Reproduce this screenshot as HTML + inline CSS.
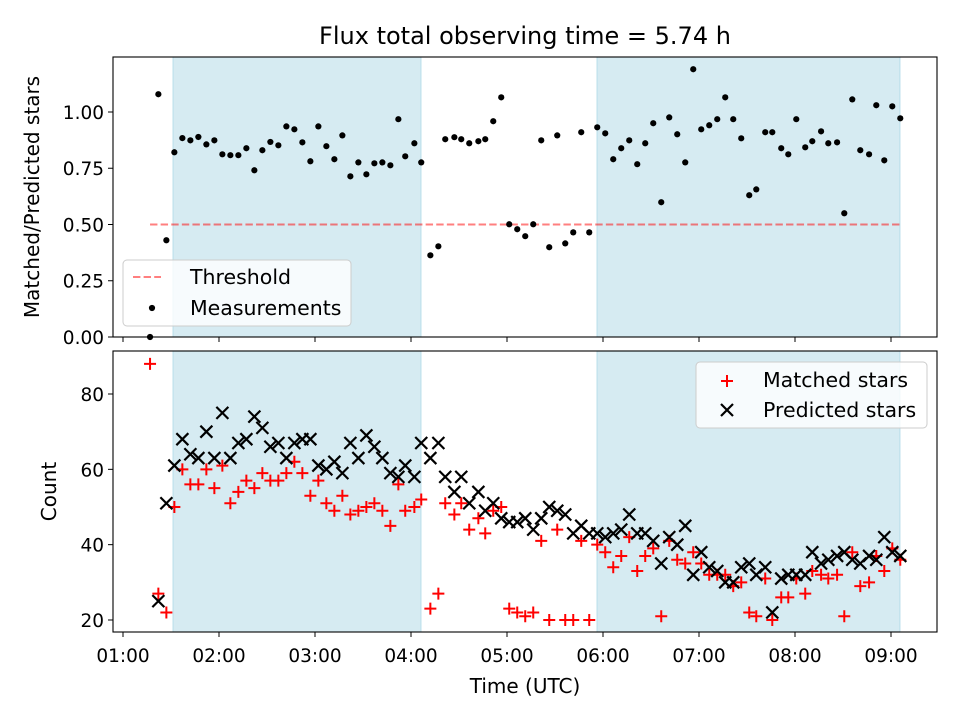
<!DOCTYPE html>
<html><head><meta charset="utf-8">
<style>
body{margin:0;background:#fff;}
svg text{font-family:"DejaVu Sans","Liberation Sans",sans-serif;fill:#000;}
</style></head>
<body>
<svg id="chart" width="960" height="720" viewBox="0 0 960 720" xmlns="http://www.w3.org/2000/svg">
<rect width="960" height="720" fill="#fff"/>
<text x="525" y="44" font-size="24" text-anchor="middle">Flux total observing time = 5.74 h</text>
<g id="topPanel"></g>
<g id="botPanel"></g>
</svg>
<script>
const times = [76.9,82.1,87.1,92.1,97.1,102.1,107.1,112.1,117.1,122.1,127.1,132.1,137.1,142.1,147.1,152.1,157.1,162.1,167.1,172.1,177.1,182.1,187.1,192.1,197.1,202.1,207.1,212.1,217.1,222.1,227.1,232.1,236.4,242.1,246.4,252.1,257.1,261.4,267.1,271.4,276.4,282.1,286.4,291.4,296.4,301.4,306.4,311.4,316.4,321.4,326.4,331.4,336.4,341.4,346.4,351.4,356.4,361.4,366.4,371.4,376.4,381.4,386.4,391.4,396.4,401.4,406.4,411.4,416.4,421.4,426.4,431.4,436.4,441.4,446.4,451.4,455.8,461.4,465.8,471.4,475.8,480.8,486.4,490.8,496.3,500.8,506.3,510.8,515.8,520.8,526.3,530.8,535.8,540.8,545.8];
const ratio = [0.0,1.079,0.430,0.821,0.884,0.874,0.889,0.856,0.874,0.812,0.808,0.808,0.839,0.741,0.830,0.867,0.852,0.936,0.923,0.865,0.781,0.936,0.848,0.790,0.896,0.714,0.776,0.723,0.772,0.776,0.763,0.968,0.803,0.861,0.776,0.363,0.403,0.879,0.888,0.879,0.861,0.870,0.879,0.959,1.065,0.501,0.479,0.448,0.501,0.874,0.399,0.896,0.416,0.465,0.910,0.465,0.932,0.905,0.790,0.839,0.874,0.768,0.861,0.950,0.599,0.976,0.901,0.776,1.190,0.923,0.941,0.968,1.065,0.968,0.883,0.630,0.656,0.910,0.910,0.839,0.812,0.968,0.843,0.870,0.914,0.861,0.865,0.550,1.056,0.830,0.812,1.030,0.785,1.025,0.972];
const predicted = [null,25,51,61,68,64,63,70,63,75,63,67,68,74,71,66,67,63,67,68,68,61,60,62,59,67,63,69,66,63,59,58,61,58,67,63,67,58,54,58,51,54,49,51,47,46,46,47,44,47,50,49,48,43,45,43,43,42,43,44,48,43,43,41,35,42,40,45,32,38,34,33,30,30,34,35,32,34,22,31,32,32,32,38,35,36,37,38,36,35,37,36,42,38,37];
const matched = [88,27,22,50,60,56,56,60,55,61,51,54,57,55,59,57,57,59,62,59,53,57,51,49,53,48,49,50,51,49,45,56,49,50,52,23,27,51,48,51,44,47,43,49,50,23,22,21,22,41,20,44,20,20,41,20,40,38,34,37,42,33,37,39,21,41,36,35,38,35,32,32,32,29,30,22,21,31,20,26,26,31,27,33,32,31,32,21,38,29,30,37,33,39,36];
const xTickVals = [60,120,180,240,300,360,420,480,540];
const xTickLabels = ["01:00","02:00","03:00","04:00","05:00","06:00","07:00","08:00","09:00"];
const topTicks = [0,0.25,0.5,0.75,1.0];
const topTickLabels = ["0.00","0.25","0.50","0.75","1.00"];
const botTicks = [20,40,60,80];
const spans = [[91.25,246.25],[356.25,545.6]];
const threshold = 0.5;

const NS="http://www.w3.org/2000/svg";
const L=113,R=937;
const X0=53.75,X1=568.75;
const sx=v=>L+(v-X0)/(X1-X0)*(R-L);
const T={top:57,bot:337,min:0,max:1.2444};
const B={top:351,bot:632,min:16.81,max:91.42};
const sy=(a,v)=>a.bot-(v-a.min)/(a.max-a.min)*(a.bot-a.top);
function mk(tag,attrs,parent){const e=document.createElementNS(NS,tag);for(const k in attrs)e.setAttribute(k,attrs[k]);parent.appendChild(e);return e;}

function panel(g,a,ticks,labels,yl,ylx,showX){
  spans.forEach((s,i)=>{
    const r=mk('rect',{x:sx(s[0]),y:a.top,width:sx(s[1])-sx(s[0]),height:a.bot-a.top,fill:'#add8e6','fill-opacity':0.5,stroke:'#add8e6','stroke-opacity':0.8},g);
    
    
  });
  ticks.forEach((t,i)=>{
    const y=sy(a,t);
    mk('line',{x1:L-5,x2:L,y1:y,y2:y,stroke:'#000','stroke-width':1},g);
    const tx=mk('text',{x:L-9,y:y+7,'font-size':18.5,'text-anchor':'end'},g);
    tx.textContent=labels?labels[i]:String(t);
    
    
  });
  xTickVals.forEach((t,i)=>{
    const x=sx(t);
    mk('line',{x1:x,x2:x,y1:a.bot,y2:a.bot+5,stroke:'#000','stroke-width':1},g);
    if(showX){
      const tx=mk('text',{x:x,y:a.bot+30,'font-size':18.5,'text-anchor':'middle'},g);
      tx.textContent=xTickLabels[i];
      
      
    }
  });
  const yt=mk('text',{x:ylx,y:(a.top+a.bot)/2,'font-size':20,'text-anchor':'middle',transform:`rotate(-90 ${ylx} ${(a.top+a.bot)/2})`},g);
  yt.textContent=yl;
  
  
}
function frame(g,a){
  const f=mk('rect',{x:L,y:a.top,width:R-L,height:a.bot-a.top,fill:'none',stroke:'#000','stroke-width':1.1},g);
  
  
}

const topG=document.getElementById('topPanel');
panel(topG,T,topTicks,topTickLabels,'Matched/Predicted stars',39,false);
const th=mk('line',{x1:sx(times[0]),x2:sx(times[times.length-1]),y1:sy(T,threshold),y2:sy(T,threshold),stroke:'#ff0000','stroke-opacity':0.5,'stroke-width':2,'stroke-dasharray':'7.4,3.2'},topG);


times.forEach((t,i)=>{
  const c=mk('circle',{cx:sx(t),cy:sy(T,ratio[i]),r:3.1,fill:'#000'},topG);
  
  
});
frame(topG,T);

const botG=document.getElementById('botPanel');
panel(botG,B,botTicks,null,'Count',56,true);
const s=6;
times.forEach((t,i)=>{
  if(matched[i]!=null){
    const x=sx(t),y=sy(B,matched[i]);
    const p=mk('path',{d:`M${x-s} ${y}H${x+s}M${x} ${y-s}V${y+s}`,stroke:'#ff0000','stroke-width':2,fill:'none'},botG);
    
    
  }
});
times.forEach((t,i)=>{
  if(predicted[i]!=null){
    const x=sx(t),y=sy(B,predicted[i]);
    const p=mk('path',{d:`M${x-s} ${y-s}L${x+s} ${y+s}M${x-s} ${y+s}L${x+s} ${y-s}`,stroke:'#000','stroke-width':2.2,fill:'none'},botG);
    
    
  }
});
frame(botG,B);
const xt=mk('text',{x:525,y:693,'font-size':20,'text-anchor':'middle'},botG);
xt.textContent='Time (UTC)';



const lg1=mk('g',{},topG);


mk('rect',{x:123,y:260,width:228,height:66,rx:4,fill:'#fff','fill-opacity':0.8,stroke:'#ccc'},lg1);
mk('line',{x1:133,x2:161,y1:277,y2:277,stroke:'#ff0000','stroke-opacity':0.5,'stroke-width':2,'stroke-dasharray':'7.4,3.2'},lg1);
mk('circle',{cx:152,cy:308,r:3.1,fill:'#000'},lg1);
let t1=mk('text',{x:190,y:284,'font-size':20.5},lg1);t1.textContent='Threshold';


let t2=mk('text',{x:190,y:315,'font-size':20.5},lg1);t2.textContent='Measurements';



const lg2=mk('g',{},botG);


mk('rect',{x:696,y:362,width:231,height:66,rx:4,fill:'#fff','fill-opacity':0.8,stroke:'#ccc'},lg2);
mk('path',{d:'M721 381H733M727 375V387',stroke:'#ff0000','stroke-width':2,fill:'none'},lg2);
mk('path',{d:'M721 404L733 416M721 416L733 404',stroke:'#000','stroke-width':2.2,fill:'none'},lg2);
let t3=mk('text',{x:763,y:387,'font-size':20.5},lg2);t3.textContent='Matched stars';


let t4=mk('text',{x:763,y:417,'font-size':20.5},lg2);t4.textContent='Predicted stars';


</script>
</body></html>
